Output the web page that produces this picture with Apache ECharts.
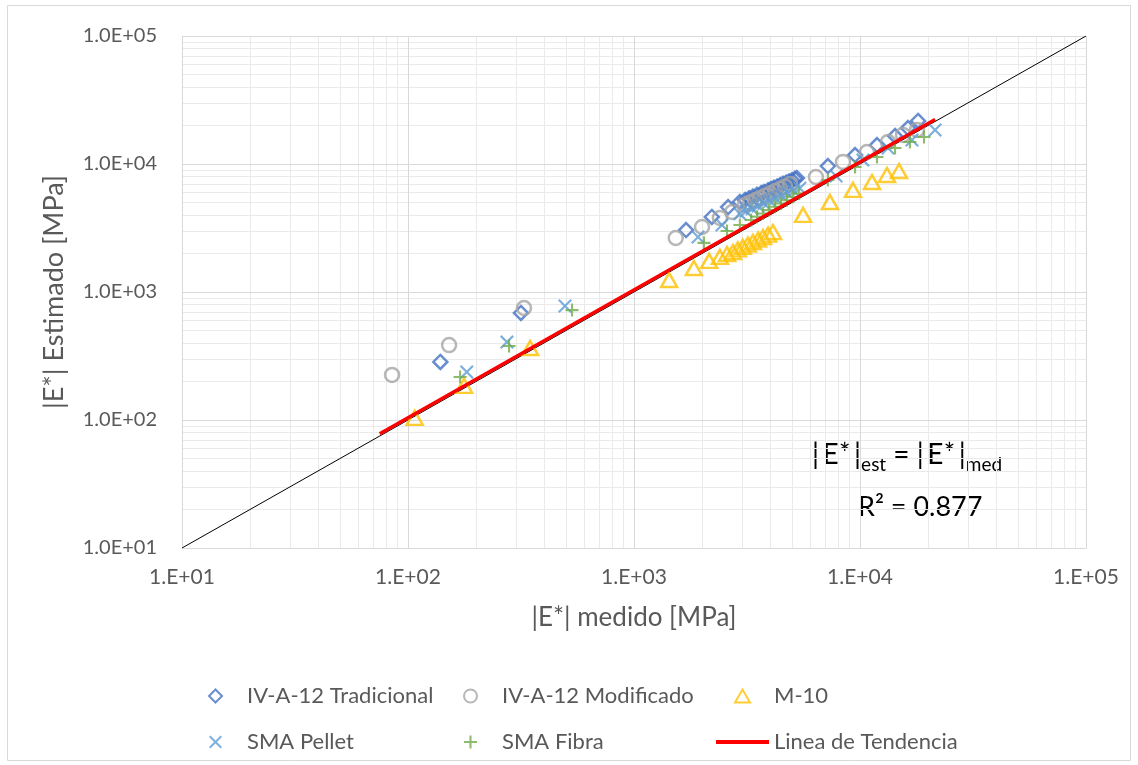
<!DOCTYPE html>
<html>
<head>
<meta charset="utf-8">
<script src="https://cdn.jsdelivr.net/npm/echarts@6/dist/echarts.min.js"></script>
<style>
  html, body { margin: 0; padding: 0; background: #ffffff; }
  #chart { width: 1138px; height: 765px; }
</style>
</head>
<body>
<div id="chart"></div>
<script>
// Measured vs estimated dynamic modulus |E*| [MPa], one [measured, estimated] pair per test
const tradicional = [
  [139, 284], [316, 686],
  [1700, 3050], [2210, 3860], [2610, 4610], [2940, 5050], [3100, 5240], [3230, 5400],
  [3360, 5570], [3500, 5740], [3650, 5920], [3760, 6050], [3920, 6240], [4040, 6380],
  [4160, 6530], [4300, 6670], [4430, 6820], [4560, 7000], [4710, 7150], [4850, 7310],
  [5000, 7460], [5150, 7660], [5260, 7760],
  [7210, 9640], [9510, 11750], [11890, 14070], [14290, 16550], [16300, 19100], [18070, 21680]
];
const modificado = [
  [85, 225], [152, 385], [326, 750],
  [1530, 2640], [2000, 3220], [2400, 3790], [2720, 4220], [3100, 4800], [3260, 5000],
  [3430, 5210], [3610, 5430], [3800, 5660], [4000, 5900], [4210, 6150], [4430, 6410],
  [4660, 6680], [4900, 6970],
  [6380, 7910], [8410, 10380], [10740, 12410], [13300, 14870], [15500, 16870], [17880, 18460]
];
const m10 = [
  [107, 104], [177, 185], [347, 365],
  [1430, 1240], [1840, 1540], [2150, 1750], [2400, 1880], [2580, 1980], [2740, 2050],
  [2880, 2150], [3030, 2250], [3190, 2350], [3360, 2460], [3540, 2570], [3720, 2690],
  [3920, 2810], [4120, 2940],
  [5600, 4000], [7360, 5050], [9310, 6270], [11300, 7230], [13160, 8200], [14880, 8810]
];
const smaPellet = [
  [182, 237], [274, 406], [495, 778],
  [1920, 2690], [2450, 3340], [2940, 4090], [3130, 4280], [3330, 4480], [3540, 4690],
  [3760, 4910], [4000, 5140], [4250, 5380], [4520, 5630], [4800, 5890], [5100, 6160],
  [5420, 6460],
  [7840, 8060], [10300, 10740], [13300, 13340], [16980, 15400], [21480, 18450]
];
const smaFibra = [
  [170, 217], [280, 378], [532, 722],
  [2040, 2420], [2580, 3000], [2940, 3340], [3300, 3650], [3500, 3870], [3720, 4110],
  [3950, 4370], [4210, 4630], [4470, 4910], [4750, 5210], [5060, 5540], [5380, 5880],
  [7210, 7500], [9510, 9480], [11890, 11350], [14290, 13340], [16630, 14870], [19190, 16270]
];
// Trend line and the equality line |E*|est = |E*|med
const tendencia = [[75, 78], [21500, 22300]];
const igualdad = [[10, 10], [100000, 100000]];

// Axis ticks
const decades = [10, 100, 1000, 10000, 100000];
const xTickLabels = ['1.E+01', '1.E+02', '1.E+03', '1.E+04', '1.E+05'];
const yTickLabels = ['1.0E+01', '1.0E+02', '1.0E+03', '1.0E+04', '1.0E+05'];
const minorSteps = [2, 3, 4, 5, 6, 7, 8, 9];

const FONT = 'Lato';
const TEXT_GREY = '#595959';

const minorValues = [];
decades.slice(0, -1).forEach(d => minorSteps.forEach(s => minorValues.push(d * s)));
const minorLines = [];
minorValues.forEach(v => { minorLines.push({ xAxis: v }); minorLines.push({ yAxis: v }); });

function tickIndex(v) { return Math.round(Math.log10(v)) - 1; }

// Marker outlines (also used as legend icons so they keep their proportions)
const SYM_PLUS = 'path://M4.2,0H5.8V10H4.2ZM0,4.2H10V5.8H0Z';
const SYM_X = 'path://M0,1.1L1.1,0L10,8.9L8.9,10ZM8.9,0L10,1.1L1.1,10L0,8.9Z';
const ICON_DIAMOND = 'path://M5,0L10,5L5,10L0,5Z';
const ICON_TRIANGLE = 'path://M5,0L10,8.7L0,8.7Z';
const ICON_BAR = 'path://M0,0H53V4H0Z';
const CLEAR = 'rgba(255,255,255,0)';

function scatter(name, data, symbol, size, color, hollow) {
  return {
    name, type: 'scatter', data, symbol, symbolSize: size, z: 3,
    symbolKeepAspect: true,
    itemStyle: hollow
      ? { color: CLEAR, borderColor: color, borderWidth: 2.5 }
      : { color: color, borderWidth: 0 }
  };
}

const chart = echarts.init(document.getElementById('chart'), null, { renderer: 'canvas' });

const legendBase = {
  orient: 'vertical', top: 680, height: 80, itemWidth: 53, itemHeight: 13, itemGap: 24,
  selectedMode: false, symbolKeepAspect: true,
  textStyle: { fontFamily: FONT, fontSize: 22, lineHeight: 22, color: TEXT_GREY }
};

chart.setOption({
  animation: false,
  backgroundColor: '#ffffff',
  grid: { left: 182, right: 52, top: 36, bottom: 217, containLabel: false },
  xAxis: {
    type: 'log', logBase: 10, min: 10, max: 100000, z: 1,
    name: '|E*| medido [MPa]', nameLocation: 'middle', nameGap: 57,
    nameTextStyle: { fontFamily: FONT, fontSize: 26, color: TEXT_GREY },
    axisLine: { show: true, lineStyle: { color: '#D9D9D9', width: 1 } },
    axisTick: { show: false },
    axisLabel: { fontFamily: FONT, fontSize: 21, color: TEXT_GREY, margin: 19,
      formatter: v => xTickLabels[tickIndex(v)] },
    splitLine: { show: true, lineStyle: { color: '#D9D9D9', width: 1 } }
  },
  yAxis: {
    type: 'log', logBase: 10, min: 10, max: 100000, z: 1,
    name: '|E*| Estimado [MPa]', nameLocation: 'middle', nameGap: 114,
    nameTextStyle: { fontFamily: FONT, fontSize: 27, color: TEXT_GREY },
    axisLine: { show: true, lineStyle: { color: '#D9D9D9', width: 1 } },
    axisTick: { show: false },
    axisLabel: { fontFamily: FONT, fontSize: 20, color: TEXT_GREY, margin: 25,
      formatter: v => yTickLabels[tickIndex(v)] },
    splitLine: { show: true, lineStyle: { color: '#D9D9D9', width: 1 } }
  },
  legend: [
    Object.assign({}, legendBase, { left: 203,
      data: [{ name: 'IV-A-12 Tradicional', icon: ICON_DIAMOND }, { name: 'SMA Pellet', icon: SYM_X }] }),
    Object.assign({}, legendBase, { left: 458,
      data: [{ name: 'IV-A-12 Modificado', icon: 'circle' }, { name: 'SMA Fibra', icon: SYM_PLUS }] }),
    Object.assign({}, legendBase, { left: 711,
      data: [{ name: 'M-10', icon: ICON_TRIANGLE }, { name: 'Linea de Tendencia', icon: ICON_BAR }] })
  ],
  series: [
    {
      name: 'igualdad', type: 'line', data: igualdad, z: 2,
      symbol: 'none', silent: true,
      lineStyle: { color: '#000000', width: 1 },
      markLine: {
        silent: true, z: 0, animation: false, symbol: ['none', 'none'],
        label: { show: false },
        lineStyle: { color: '#EAEAEA', width: 1, type: 'solid' },
        emphasis: { disabled: true },
        data: minorLines
      }
    },
    scatter('IV-A-12 Tradicional', tradicional, 'diamond', 14, '#4472C4', true),
    scatter('IV-A-12 Modificado', modificado, 'circle', 14, '#A5A5A5', true),
    scatter('M-10', m10, 'triangle', [16, 14], '#FFC000', true),
    scatter('SMA Pellet', smaPellet, SYM_X, 14, '#5B9BD5', false),
    scatter('SMA Fibra', smaFibra, SYM_PLUS, 13, '#70AD47', false),
    {
      name: 'Linea de Tendencia', type: 'line', data: tendencia, z: 4,
      symbol: 'none', itemStyle: { color: '#FF0000' },
      lineStyle: { color: '#FF0000', width: 3.5 }
    }
  ],
  graphic: [
    {
      type: 'rect', silent: true, z: -1,
      shape: { x: 7.5, y: 5.5, width: 1123, height: 755 },
      style: { fill: 'none', stroke: '#D9D9D9', lineWidth: 1 }
    },
    {
      type: 'text', left: 812, top: 435, silent: true,
      style: {
        text: '|\u2009E*\u2009|{s|est} = |\u2009E*\u2009|{s|med}',
        fontFamily: FONT, fontSize: 28, lineHeight: 39, fill: '#000000',
        rich: { s: { fontFamily: FONT, fontSize: 19, lineHeight: 18, verticalAlign: 'bottom', fill: '#000000' } }
      }
    },
    {
      type: 'text', left: 858, top: 494, silent: true,
      style: { text: 'R\u00B2 = 0.877', fontFamily: FONT, fontSize: 27, fill: '#000000' }
    }
  ]
});
</script>
</body>
</html>
